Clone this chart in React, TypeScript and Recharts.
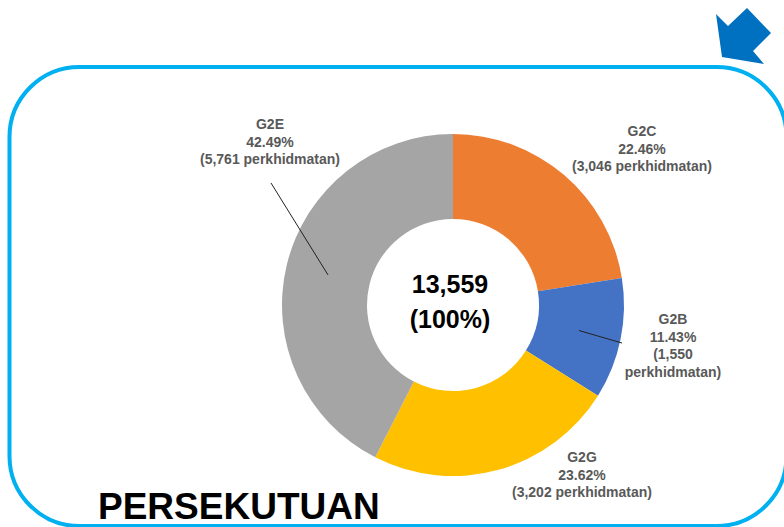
import React from 'react';
import { PieChart, Pie, Cell } from 'recharts';

const categories = ['G2C', 'G2B', 'G2G', 'G2E'];
const values = [3046, 1550, 3202, 5761];
const colors = ['#ED7D31', '#4472C4', '#FFC000', '#A5A5A5'];
const unitLabel = 'perkhidmatan';
const title = 'PERSEKUTUAN';

const total = values.reduce((a, b) => a + b, 0);
const data = categories.map((name, i) => ({ name, value: values[i] }));

const fmt = (n: number) => n.toLocaleString('en-US');

// label placement (offsets from pie centre), styling only
const LABEL_LAYOUT: Record<string, { dx: number; dy: number; lines?: number; leader?: [number, number] }> = {
  G2C: { dx: 189, dy: -169 },
  G2B: { dx: 220, dy: 19, lines: 4, leader: [169, 38] },
  G2G: { dx: 129, dy: 157 },
  G2E: { dx: -183, dy: -176, leader: [-182, -122] },
};

const FONT = '"Liberation Sans", Arial, sans-serif';
const RAD = Math.PI / 180;

const renderLabel = (props: any) => {
  const { cx, cy, midAngle, innerRadius, outerRadius, index } = props;
  const name = categories[index];
  const v = values[index];
  const pct = ((v / total) * 100).toFixed(2) + '%';
  const lay = LABEL_LAYOUT[name];
  const x = cx + lay.dx;
  const y0 = cy + lay.dy;
  const lh = 17.7;
  const lines =
    lay.lines === 4
      ? [name, pct, `(${fmt(v)}`, `${unitLabel})`]
      : [name, pct, `(${fmt(v)} ${unitLabel})`];
  let leader = null;
  if (lay.leader) {
    const r = (innerRadius + outerRadius) / 2;
    const sx = cx + r * Math.cos(-midAngle * RAD);
    const sy = cy + r * Math.sin(-midAngle * RAD);
    leader = (
      <line x1={sx} y1={sy} x2={cx + lay.leader[0]} y2={cy + lay.leader[1]} stroke="#222" strokeWidth={1} />
    );
  }
  return (
    <g key={`lbl-${index}`}>
      {leader}
      {lines.map((t, i) => (
        <text
          key={i}
          x={x}
          y={y0 + i * lh}
          textAnchor="middle"
          fill="#595959"
          fontFamily={FONT}
          fontWeight="bold"
          fontSize={14}
        >
          {t}
        </text>
      ))}
      {index === 0 && (
        <g>
          <text x={cx - 3} y={cy - 12} textAnchor="middle" fill="#000" fontFamily={FONT} fontWeight="bold" fontSize={25}>
            {fmt(total)}
          </text>
          <text x={cx - 3} y={cy + 23} textAnchor="middle" fill="#000" fontFamily={FONT} fontWeight="bold" fontSize={25}>
            (100%)
          </text>
        </g>
      )}
    </g>
  );
};

export default function App() {
  return (
    <div style={{ position: 'absolute', left: 0, top: 0, width: 784, height: 527, background: '#fff', overflow: 'hidden' }}>
      <svg width={784} height={527} style={{ position: 'absolute', left: 0, top: 0 }}>
        <rect x={9.5} y={67} width={777} height={459} rx={70} ry={70} fill="none" stroke="#00B0F0" strokeWidth={4} />
        <polygon points="716,14 728,26 747,8 771,33 753,51 764,64 722,57" fill="#0070C0" />
        <text x={98} y={519} fontFamily={FONT} fontWeight="bold" fontSize={37} fill="#000">
          {title}
        </text>
      </svg>
      <div style={{ position: 'absolute', left: 0, top: 0 }}>
        <PieChart width={784} height={527} margin={{ top: 0, right: 0, bottom: 0, left: 0 }}>
          <Pie
            data={data}
            dataKey="value"
            nameKey="name"
            cx={453}
            cy={305}
            innerRadius={86}
            outerRadius={171}
            startAngle={90}
            endAngle={-270}
            stroke="none"
            label={renderLabel}
            labelLine={false}
            isAnimationActive={false}
          >
            {data.map((d, i) => (
              <Cell key={d.name} fill={colors[i]} />
            ))}
          </Pie>
        </PieChart>
      </div>
    </div>
  );
}
